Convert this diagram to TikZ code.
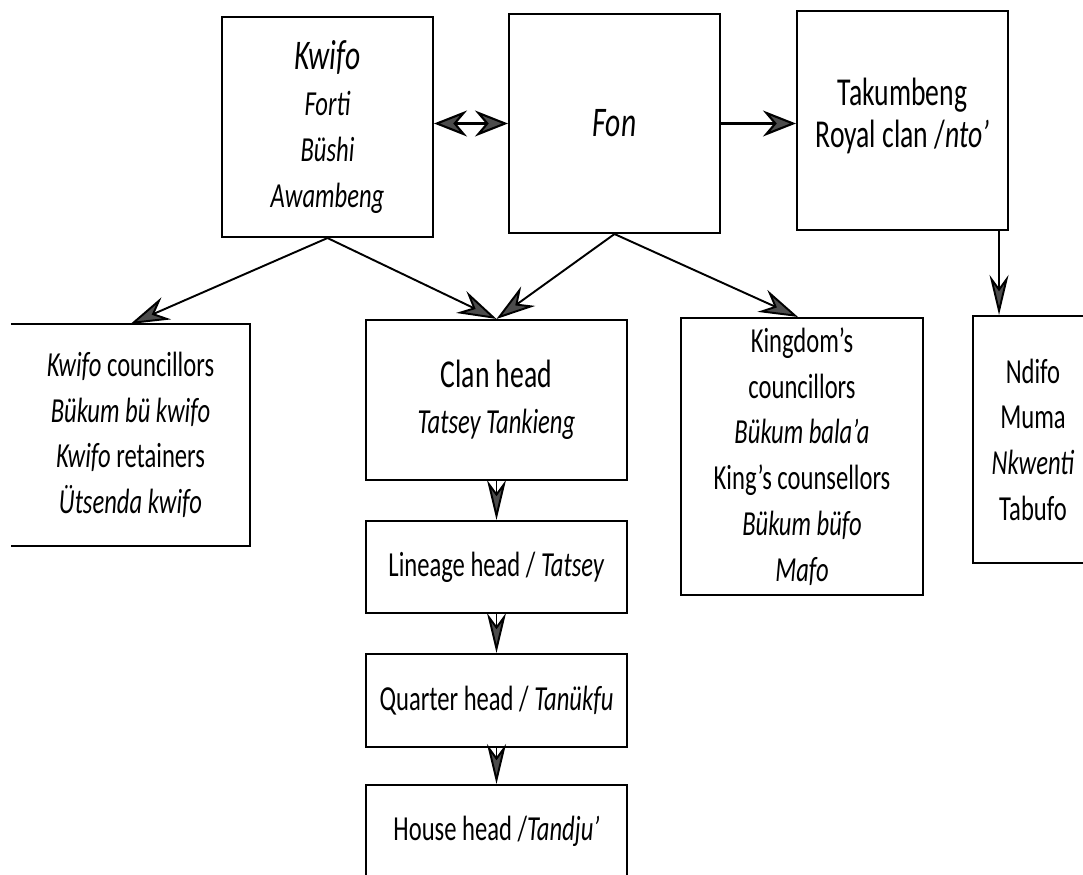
\documentclass[tikz,border=0pt]{standalone}
\usepackage{fontspec}
\setmainfont[FakeStretch=0.7]{Carlito}
\usetikzlibrary{arrows.meta}

\tikzset{
  wing/.tip={Stealth[length=0.66cm,width=0.52cm,inset=0.22cm,fill=black!70]},
  slantwing/.tip={Stealth[length=0.78cm,width=0.48cm,inset=0.26cm,fill=black!70]},
  spike/.tip={Stealth[length=0.8cm,width=0.38cm,inset=0.26cm,fill=black!70]},
  box/.style={draw, line width=1.2pt, align=center, inner sep=0pt, font=\fontsize{20}{26}\selectfont},
  twoway/.style={line width=1.2pt, wing-wing},
  oneway/.style={line width=1.2pt, -wing},
  slant/.style={line width=1.1pt, -slantwing},
  down/.style={line width=1.1pt, -spike}
}

\begin{document}
\begin{tikzpicture}[x=0.02cm,y=-0.02cm]
\useasboundingbox (0,0) rectangle (1083,875);

% top row
\node[box, minimum width=4.22cm, minimum height=4.40cm] (kwifo) at (327.5,127)
  {{\fontsize{24}{26}\selectfont\textit{Kwifo}}\\ \textit{Forti}\\ \textit{Büshi}\\ \textit{Awambeng}};
\node[box, minimum width=4.22cm, minimum height=4.38cm] (fon) at (614.5,123.5)
  {\fontsize{24}{26}\selectfont\textit{Fon}};
\node[box, minimum width=4.22cm, minimum height=4.38cm, font=\fontsize{22.5}{24}\selectfont] (taku) at (902.5,120.5)
  {Takumbeng\\ Royal clan /\textit{nto’}\rule[-0.32cm]{0pt}{0pt}};

% second row
\node[box, draw=none, minimum width=4.74cm, minimum height=4.40cm] (kcoun) at (130.5,435)
  {\textit{Kwifo} councillors\\ \textit{Bükum bü kwifo}\\ \textit{Kwifo} retainers\\ \textit{Ütsenda kwifo}};
\draw[line width=1.2pt] (kcoun.north west) -- (kcoun.north east) -- (kcoun.south east) -- (kcoun.south west);

\node[box, minimum width=5.22cm, minimum height=3.2cm] (clan) at (496.5,400)
  {{\fontsize{22.5}{26}\selectfont Clan head}\\ \textit{Tatsey Tankieng}};
\node[box, minimum width=4.84cm, minimum height=5.54cm] (kingdom) at (802,456.5)
  {Kingdom’s\\ councillors\\ \textit{Bükum bala’a}\\ King’s counsellors\\ \textit{Bükum büfo}\\ \textit{Mafo}};
\node[box, minimum width=2.4cm, minimum height=4.94cm] (ndifo) at (1033,439.5)
  {Ndifo\\ Muma\\ \textit{Nkwenti}\\ Tabufo};

% head chain
\node[box, minimum width=5.22cm, minimum height=1.84cm] (lineage) at (496.5,567) {Lineage head / \textit{Tatsey}};
\node[box, minimum width=5.22cm, minimum height=1.86cm] (quarter) at (496.5,700.5) {Quarter head / \textit{Tanükfu}};
\node[box, minimum width=5.22cm, minimum height=1.84cm] (house) at (496.5,831) {House head /\textit{Tandju’}};

\draw[twoway] (kwifo.east |- fon.west) -- (fon.west);
\draw[oneway] (fon.east) -- (fon.east -| taku.west);

\draw[slant] (kwifo.south) -- (kcoun.north);
\draw[slant] (kwifo.south) -- (clan.north);
\draw[slant] (fon.south) -- (clan.north);
\draw[slant] (fon.south) -- ([xshift=-0.08cm]kingdom.north);

\coordinate (drop) at ([xshift=-0.2cm]taku.south east);
\draw[down] (drop) -- (drop |- ndifo.north);

\draw[down] (clan.south) -- (lineage.north);
\draw[down] (lineage.south) -- (quarter.north);
\draw[down] (quarter.south) -- (house.north);

\end{tikzpicture}
\end{document}
